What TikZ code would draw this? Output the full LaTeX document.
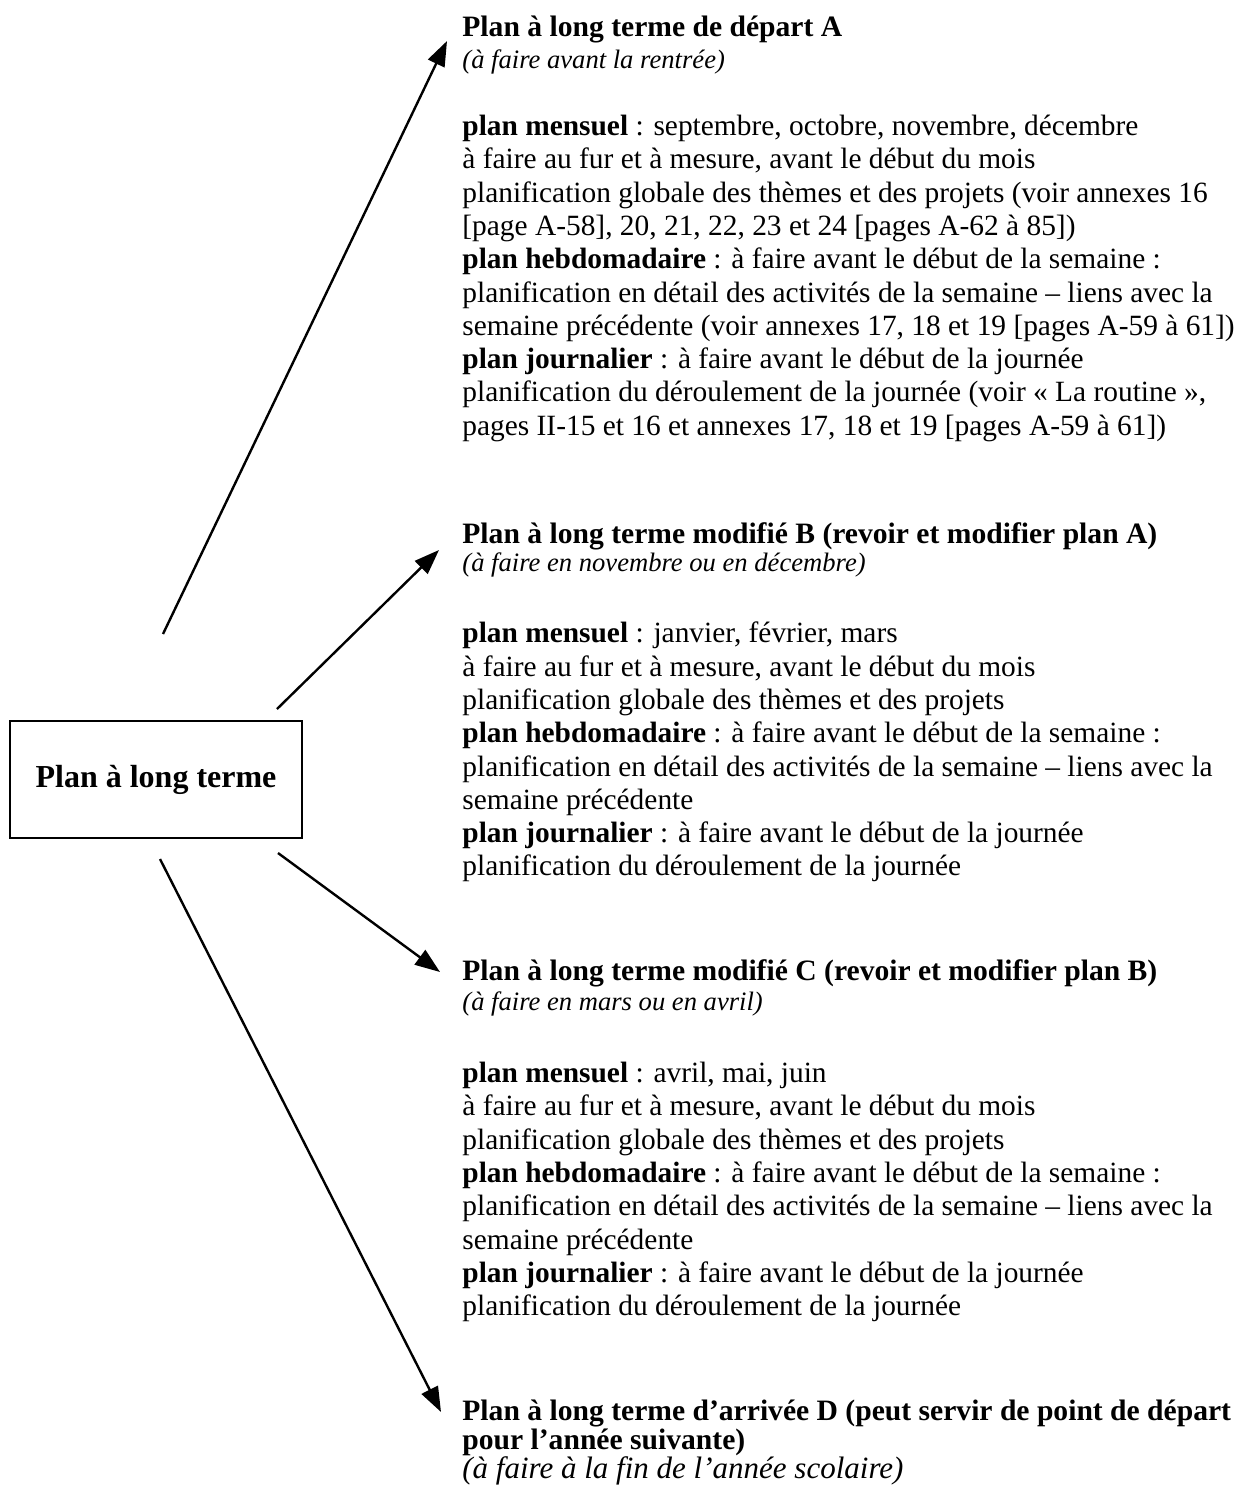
\documentclass[tikz,border=0pt]{standalone}
\usepackage{fontspec}
\setmainfont{Liberation Serif}
\usetikzlibrary{arrows.meta}
\newcommand{\hdfont}{\fontsize{14.8}{14.5}\selectfont}
\newcommand{\itfont}{\fontsize{13.3}{14.5}\selectfont}
\newcommand{\bdfont}{\fontsize{14.7}{16.65}\selectfont}

\begin{document}
\begin{tikzpicture}[x=0.5pt,y=-0.5pt,>={Triangle[length=12.5pt,width=9pt]},
  titre/.style={anchor=base west,inner sep=0pt,font=\hdfont\bfseries,align=left},
  quand/.style={anchor=base west,inner sep=0pt,font=\itfont\itshape},
  corps/.style={anchor=north west,inner sep=0pt,font=\bdfont,align=left,
    execute at begin node=\strut},
  fleche/.style={->,line width=1.2pt}]
\useasboundingbox (0,0) rectangle (1237,1495);
% plan central
\node[draw,line width=1.1pt,minimum width=146pt,minimum height=58.5pt,
  font=\fontsize{16}{18}\selectfont\bfseries] (plan) at (156,779.5) {Plan à long terme};
% plan A
\node[titre] (titreA) at (462,36) {Plan à long terme de départ A};
\node[quand] (quandA) at (462,68) {(à faire avant la rentrée)};
\node[corps] (corpsA) at (462,114.7) {\textbf{plan mensuel} : septembre, octobre, novembre, décembre\\
  à faire au fur et à mesure, avant le début du mois\\
  planification globale des thèmes et des projets (voir annexes 16\\
  {[}page A-58], 20, 21, 22, 23 et 24 [pages A-62 à 85])\\
  \textbf{plan hebdomadaire} : à faire avant le début de la semaine :\\
  planification en détail des activités de la semaine – liens avec la\\
  semaine précédente (voir annexes 17, 18 et 19 [pages A-59 à 61])\\
  \textbf{plan journalier} : à faire avant le début de la journée\\
  planification du déroulement de la journée (voir «~La routine~»,\\
  pages II-15 et 16 et annexes 17, 18 et 19 [pages A-59 à 61])};
% plan B
\node[titre] (titreB) at (462,543) {Plan à long terme modifié B (revoir et modifier plan A)};
\node[quand] (quandB) at (462,571) {(à faire en novembre ou en décembre)};
\node[corps] (corpsB) at (462,621.7) {\textbf{plan mensuel} : janvier, février, mars\\
  à faire au fur et à mesure, avant le début du mois\\
  planification globale des thèmes et des projets\\
  \textbf{plan hebdomadaire} : à faire avant le début de la semaine :\\
  planification en détail des activités de la semaine – liens avec la\\
  semaine précédente\\
  \textbf{plan journalier} : à faire avant le début de la journée\\
  planification du déroulement de la journée};
% plan C
\node[titre] (titreC) at (462,980) {Plan à long terme modifié C (revoir et modifier plan B)};
\node[quand] (quandC) at (462,1010) {(à faire en mars ou en avril)};
\node[corps] (corpsC) at (462,1061.7) {\textbf{plan mensuel} : avril, mai, juin\\
  à faire au fur et à mesure, avant le début du mois\\
  planification globale des thèmes et des projets\\
  \textbf{plan hebdomadaire} : à faire avant le début de la semaine :\\
  planification en détail des activités de la semaine – liens avec la\\
  semaine précédente\\
  \textbf{plan journalier} : à faire avant le début de la journée\\
  planification du déroulement de la journée};
% plan D (base = derniere ligne)
\node[titre] (titreD) at (462,1449) {Plan à long terme d’arrivée D (peut servir de point de départ\\
  pour l’année suivante)};
\node[quand,font=\fontsize{15.5}{16}\selectfont\itshape] (quandD) at (462,1478) {(à faire à la fin de l’année scolaire)};
% fleches
\coordinate (departA) at (163,634);
\coordinate (boutA) at (447,41);
\coordinate (departB) at (277,709);
\coordinate (boutB) at (439,550);
\coordinate (departC) at (278,853);
\coordinate (boutC) at (440,972);
\coordinate (departD) at (160,859);
\coordinate (boutD) at (441,1412);
\draw[fleche] (departA) -- (boutA);
\draw[fleche] (departB) -- (boutB);
\draw[fleche] (departC) -- (boutC);
\draw[fleche] (departD) -- (boutD);
\end{tikzpicture}
\end{document}
